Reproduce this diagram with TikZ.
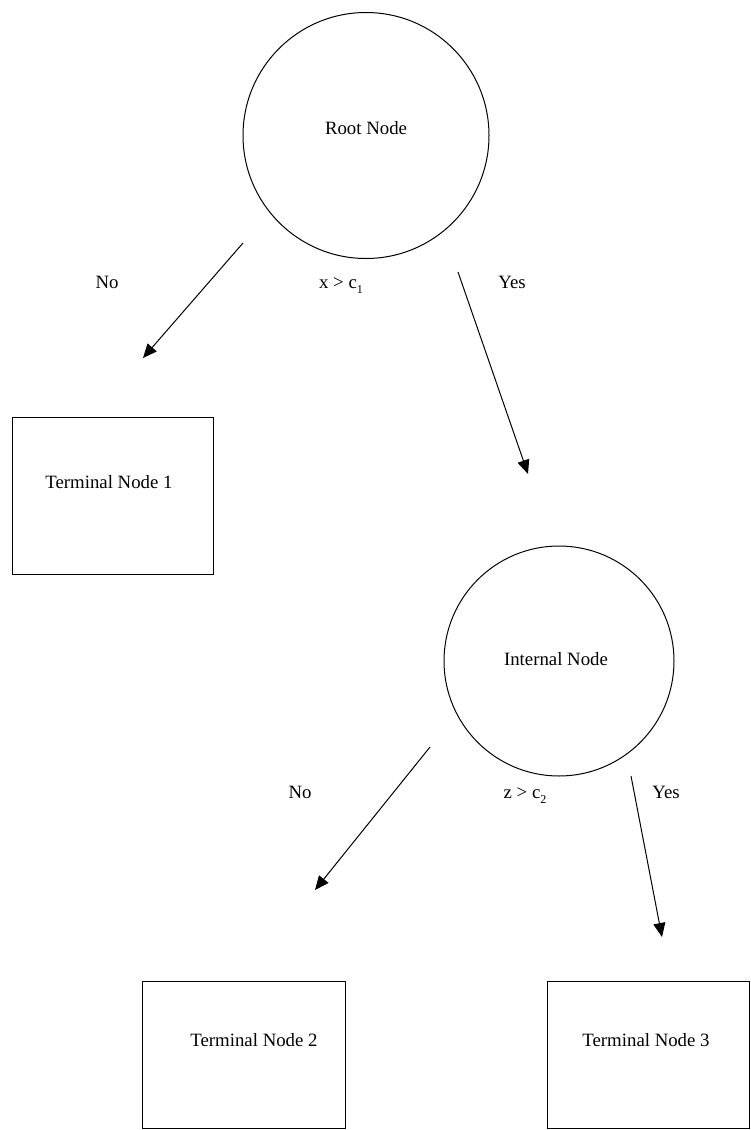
\documentclass[tikz,border=0pt]{standalone}
\usepackage{fontspec}
\setmainfont{Liberation Serif}
\usetikzlibrary{arrows.meta}
\newcommand{\mysub}[1]{\raisebox{-0.3em}{\fontsize{12}{12}\selectfont #1}}
\begin{document}
\begin{tikzpicture}[x=1pt,y=-1pt,
  every node/.style={font=\fontsize{18.8}{22}\selectfont, inner sep=0pt},
  circ/.style={draw, circle, line width=1pt, minimum size=#1},
  lab/.style={anchor=base},
  arr/.style={line width=1pt, -{Triangle[length=14pt,width=12pt]}}]
\useasboundingbox (0,0) rectangle (751,1130);
% root
\node[circ=246pt] (root) at (366,135.5) {};
\node (roottext) at (366,128) {Root Node};
\node[lab] (c1) at (341,288) {x > c\mysub{1}};
\node[lab] (no1) at (107,288) {No};
\node[lab] (yes1) at (512,288) {Yes};
% terminal 1
\node[draw, line width=1pt, minimum width=201pt, minimum height=157pt] (t1) at (112.5,495.5) {};
\node (t1text) at (109,482) {Terminal Node 1};
% internal
\node[circ=230pt] (int) at (559,661) {};
\node (inttext) at (556,659) {Internal Node};
\node[lab] (c2) at (525,798) {z > c\mysub{2}};
\node[lab] (no2) at (300,798) {No};
\node[lab] (yes2) at (666,798) {Yes};
% terminals 2 and 3
\node[draw, line width=1pt, minimum width=203pt, minimum height=147pt] (t2) at (243.5,1054.5) {};
\node (t2text) at (254,1040) {Terminal Node 2};
\node[draw, line width=1pt, minimum width=202pt, minimum height=147pt] (t3) at (648,1054.5) {};
\node (t3text) at (646,1040) {Terminal Node 3};
% arrow coordinates
\coordinate (a1s) at (243,243);
\coordinate (a1e) at (143,358);
\coordinate (a2s) at (458,272);
\coordinate (a2e) at (528,474);
\coordinate (a3s) at (430,747);
\coordinate (a3e) at (315,890);
\coordinate (a4s) at (631,776);
\coordinate (a4e) at (662,937);
\draw[arr] (a1s) -- (a1e);
\draw[arr] (a2s) -- (a2e);
\draw[arr] (a3s) -- (a3e);
\draw[arr] (a4s) -- (a4e);
\end{tikzpicture}
\end{document}
